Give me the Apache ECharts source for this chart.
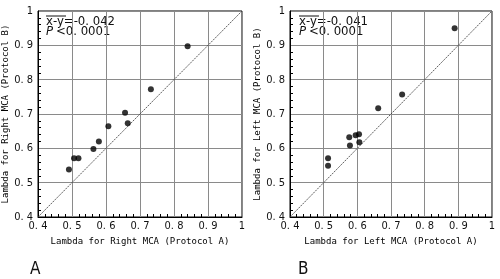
<!DOCTYPE html>
<html>
<head>
<meta charset="utf-8">
<script src="https://cdn.jsdelivr.net/npm/echarts@6/dist/echarts.min.js"></script>
<style>
  html, body { margin: 0; padding: 0; background: #fff; }
  #chart { width: 500px; height: 279px; }
</style>
</head>
<body>
<div id="chart"></div>
<script>
// panel A: right MCA
var rightA = [0.491, 0.506, 0.519, 0.563, 0.579, 0.607, 0.656, 0.664, 0.732, 0.840];
var rightB = [0.538, 0.571, 0.571, 0.598, 0.620, 0.664, 0.704, 0.673, 0.772, 0.897];
// panel B: left MCA
var leftA = [0.513, 0.513, 0.578, 0.576, 0.595, 0.605, 0.606, 0.662, 0.733, 0.889];
var leftB = [0.549, 0.571, 0.608, 0.632, 0.638, 0.641, 0.618, 0.717, 0.757, 0.950];
var identity = [[0.4, 0.4], [1, 1]];

var monoFont = '"DejaVu Sans Mono", monospace';
var narrowFont = '"Liberation Sans Narrow", "DejaVu Sans Condensed", sans-serif';

function pairs(xs, ys) {
	var out = [];
	for (var i = 0; i < xs.length; i++) {
		out.push([xs[i], ys[i]]);
	}
	return out;
}

// tick text like "0. 4"
function tickText(v) {
	return v === 1 ? '1' : v.toFixed(1).replace('.', '. ');
}

function makeAxis(idx, name, isX) {
	return {
		gridIndex: idx, type: 'value', min: 0.4, max: 1, interval: 0.1,
		name: name, nameLocation: 'middle', nameGap: isX ? 16 : 26,
		nameTextStyle: { fontFamily: monoFont, fontSize: 9, color: '#000' },
		axisLine: { lineStyle: { color: '#000', width: 1 } },
		axisTick: { show: false, inside: true },
		minorTick: { show: true, splitNumber: 5, length: 3, lineStyle: { color: '#000' } },
		axisLabel: {
			fontFamily: narrowFont, fontSize: 11, color: '#111', margin: isX ? 4 : 5,
			formatter: tickText
		},
		splitLine: { show: true, lineStyle: { color: '#8a8a8a', width: 1 } }
	};
}

function dots(idx, data) {
	return {
		type: 'scatter', xAxisIndex: idx, yAxisIndex: idx, data: data,
		symbolSize: 6, itemStyle: { color: '#000' }, z: 5
	};
}

function diag(idx) {
	return {
		type: 'line', xAxisIndex: idx, yAxisIndex: idx, data: identity,
		showSymbol: false, silent: true,
		lineStyle: { color: '#333', width: 0.8, type: [2, 1] }
	};
}

function note(x, diff) {
	return [
		{ type: 'text', x: x, y: 15, style: { text: 'x-y=-0. ' + diff, font: '13px ' + narrowFont, fill: '#111' } },
		{ type: 'line', shape: { x1: x, y1: 16, x2: x + 20, y2: 16 }, style: { stroke: '#111', lineWidth: 1 } },
		{ type: 'text', x: x, y: 25, style: { text: 'P', font: 'italic 13px ' + narrowFont, fill: '#111' } },
		{ type: 'text', x: x + 10, y: 25, style: { text: '<0. 0001', font: '13px ' + narrowFont, fill: '#111' } }
	];
}

var myChart = echarts.init(document.getElementById('chart'));

var option = {
	backgroundColor: '#fff',
	animation: false,
	grid: [
		{ left: 38, top: 11, width: 204, height: 206, show: true, borderColor: '#000', borderWidth: 1, containLabel: false, outerBoundsMode: 'none' },
		{ left: 290, top: 11, width: 202, height: 206, show: true, borderColor: '#000', borderWidth: 1, containLabel: false, outerBoundsMode: 'none' }
	],
	xAxis: [
		makeAxis(0, 'Lambda for Right MCA (Protocol A)', true),
		makeAxis(1, 'Lambda for Left MCA (Protocol A)', true)
	],
	yAxis: [
		makeAxis(0, 'Lambda for Right MCA (Protocol B)', false),
		makeAxis(1, 'Lambda for Left MCA (Protocol B)', false)
	],
	series: [diag(0), dots(0, pairs(rightA, rightB)), diag(1), dots(1, pairs(leftA, leftB))],
	graphic: note(46, '042').concat(note(299, '041')).concat([
		{ type: 'text', x: 30, y: 261, style: { text: 'A', font: '17px ' + narrowFont, fill: '#111' } },
		{ type: 'text', x: 298, y: 261, style: { text: 'B', font: '17px ' + narrowFont, fill: '#111' } }
	])
};

myChart.setOption(option);
</script>
</body>
</html>
